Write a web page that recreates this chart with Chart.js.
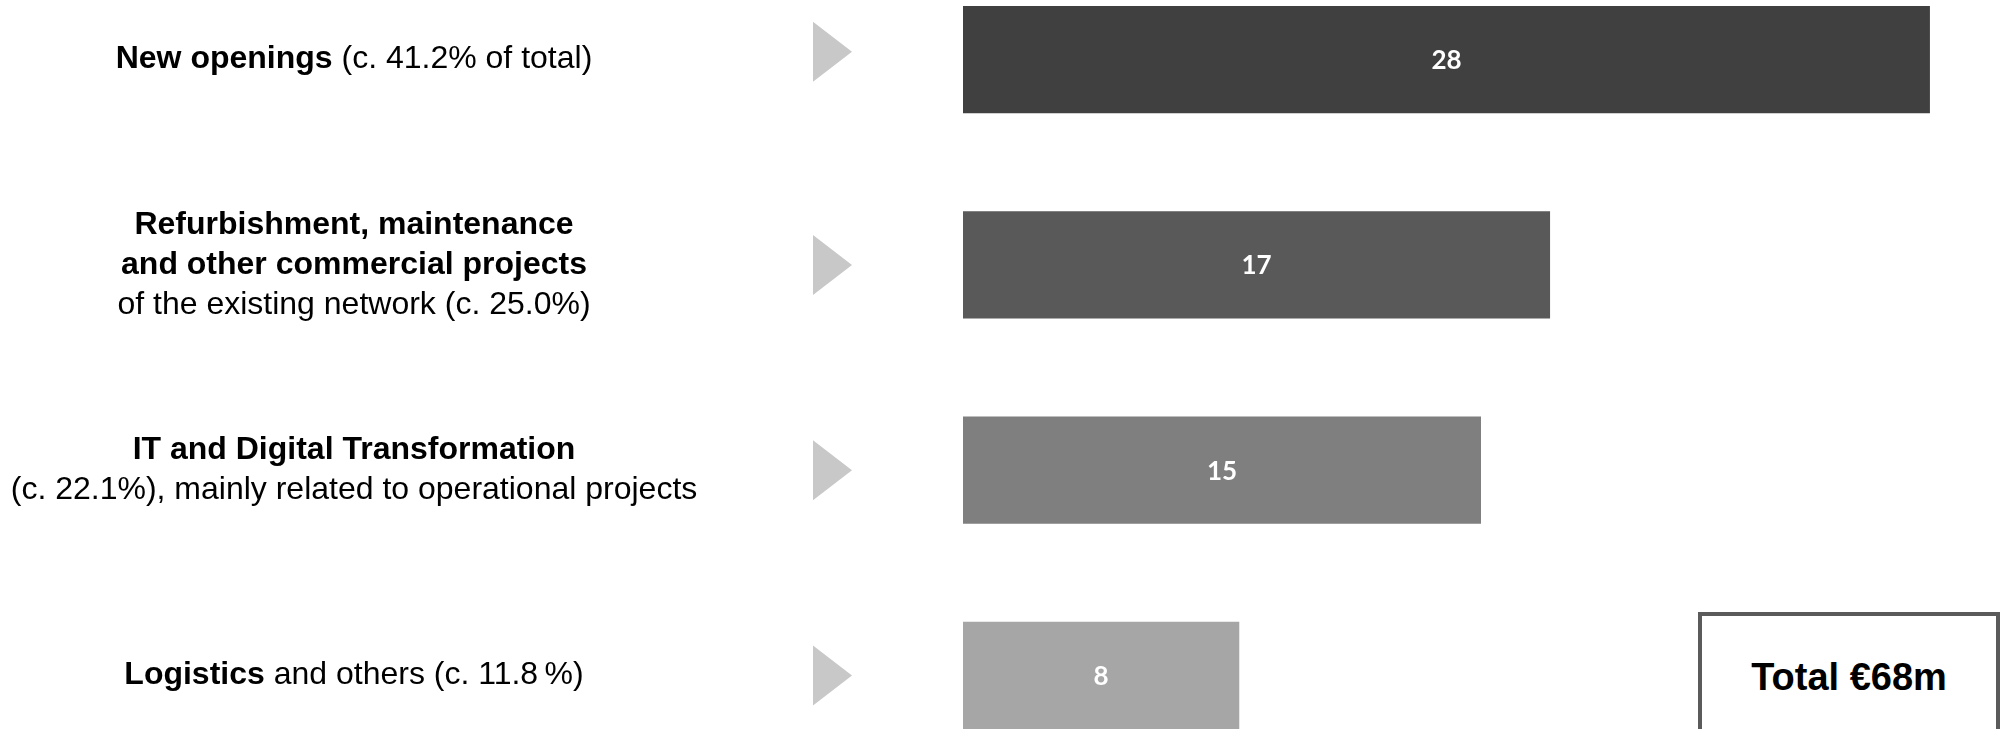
<!DOCTYPE html>
<html>
<head>
<meta charset="utf-8">
<script src="https://cdn.jsdelivr.net/npm/chart.js@4/dist/chart.umd.min.js"></script>
<style>
  html, body { margin: 0; padding: 0; background: #fff; width: 2002px; height: 729px; overflow: hidden; }
  #wrap { position: absolute; left: 0; top: -43px; width: 2002px; height: 821px; }
  #total {
    position: absolute; left: 1698px; top: 612px; width: 294px; height: 122px;
    border: 4px solid #5b5b5b; background: #fff;
    display: flex; align-items: center; justify-content: center;
    font: bold 38px "Liberation Sans", Arial, sans-serif; color: #000;
  }
</style>
</head>
<body>
<div id="wrap"><canvas id="capexChart" width="2002" height="821"></canvas></div>
<div id="total">Total €68m</div>
<script>
// capex split, €m
const categories = ['New openings', 'Refurbishment, maintenance and other commercial projects', 'IT and Digital Transformation', 'Logistics and others'];
const capex = [28, 17, 15, 8];
const barColors = ['#404040', '#595959', '#7f7f7f', '#a6a6a6'];

// left hand labels: each line is a list of [text, bold]
const labelLines = [
  [[['New openings', true], [' (c. 41.2% of total)', false]]],
  [[['Refurbishment, maintenance', true]], [['and other commercial projects', true]], [['of the existing network (c. 25.0%)', false]]],
  [[['IT and Digital Transformation', true]], [['(c. 22.1%), mainly related to operational projects', false]]],
  [[['Logistics', true], [' and others (c. 11.8\u2009%)', false]]]
];

function labelFont(bold) {
  return (bold ? 'bold ' : '') + '32px "Liberation Sans", Arial, sans-serif';
}

// arrows + category text on the left
const sideLabels = {
  id: 'sideLabels',
  afterDraw(chart) {
    const ctx = chart.ctx;
    const yScale = chart.scales.y;
    ctx.save();
    categories.forEach((c, i) => {
      const cy = yScale.getPixelForValue(i);
      const ay = i === 0 ? cy - 8 : cy;

      ctx.fillStyle = '#c8c8c8';
      ctx.beginPath();
      ctx.moveTo(813, ay - 30);
      ctx.lineTo(852, ay);
      ctx.lineTo(813, ay + 30);
      ctx.closePath();
      ctx.fill();

      const lines = labelLines[i];
      const lh = 40;
      let ty = cy - (lines.length - 1) * lh / 2;
      ctx.textBaseline = 'middle';
      ctx.textAlign = 'left';
      ctx.fillStyle = '#000';
      lines.forEach(parts => {
        let w = 0;
        parts.forEach(p => { ctx.font = labelFont(p[1]); w += ctx.measureText(p[0]).width; });
        let x = 354 - w / 2;
        parts.forEach(p => {
          ctx.font = labelFont(p[1]);
          ctx.fillText(p[0], x, ty);
          x += ctx.measureText(p[0]).width;
        });
        ty += lh;
      });
    });
    ctx.restore();
  }
};

// white numbers in the middle of each bar
const barValues = {
  id: 'barValues',
  afterDatasetsDraw(chart) {
    const ctx = chart.ctx;
    const meta = chart.getDatasetMeta(0);
    ctx.save();
    ctx.fillStyle = '#fff';
    ctx.font = 'bold 26px Lato, "Open Sans", sans-serif';
    ctx.textAlign = 'center';
    ctx.textBaseline = 'middle';
    meta.data.forEach((bar, i) => {
      ctx.fillText(String(capex[i]), (bar.x + bar.base) / 2, bar.y + 1);
    });
    ctx.restore();
  }
};

const ctx = document.getElementById('capexChart').getContext('2d');
const capexChart = new Chart(ctx, {
  type: 'bar',
  data: {
    labels: categories,
    datasets: [{
      data: capex,
      backgroundColor: barColors,
      borderWidth: 0,
      barPercentage: 1,
      categoryPercentage: 0.522
    }]
  },
  options: {
    indexAxis: 'y',
    responsive: false,
    animation: false,
    layout: { padding: { left: 963, right: 3, top: 0, bottom: 0 } },
    scales: {
      x: { display: false, min: 0, max: 30 },
      y: { display: false }
    },
    plugins: {
      legend: { display: false },
      tooltip: { enabled: false }
    }
  },
  plugins: [sideLabels, barValues]
});
</script>
</body>
</html>
